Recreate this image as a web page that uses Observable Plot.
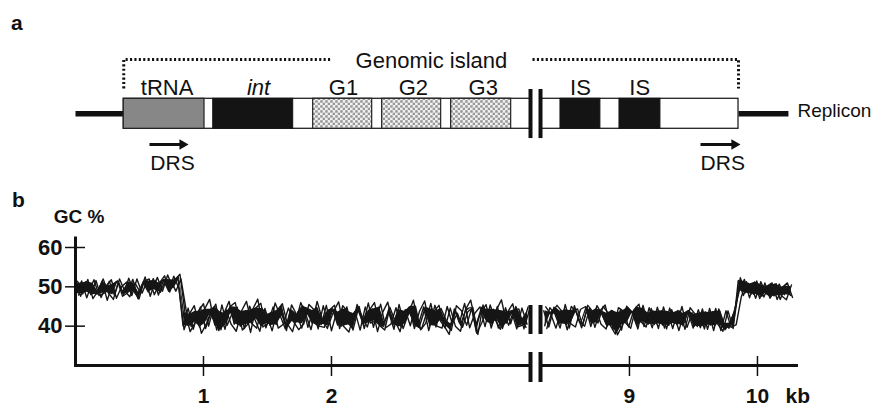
<!DOCTYPE html>
<html><head><meta charset="utf-8">
<script src="https://cdn.jsdelivr.net/npm/d3@7"></script>
<script src="https://cdn.jsdelivr.net/npm/@observablehq/plot@0.6"></script>
<style>
body{margin:0;background:#fff;}
#wrap{position:relative;width:877px;height:408px;overflow:hidden;font-family:'Liberation Sans',Arial,sans-serif;color:#111;}
.panel{position:absolute;left:0;}
.lab{position:absolute;font-weight:bold;font-size:21px;line-height:1;}
</style></head><body>
<div id="wrap">
<div class="panel" id="pa" style="top:0"></div>
<div class="panel" id="pb" style="top:185px"></div>
<div class="lab" style="left:11px;top:12px">a</div>
<div class="lab" style="left:12px;top:189px">b</div>
</div>
<script>
// ---------- Panel a: gene map (positions in kb) ----------
const repliconFlanks = [[0, 0.377], [9.852, 10.242]];
const islandStart = 0.377, islandEnd = 9.852;
const geneNames  = ["tRNA", "int", "G1", "G2", "G3", "IS", "IS"];
const geneKinds  = ["tRNA", "int", "gene", "gene", "gene", "IS", "IS"];
const geneStart  = [0.377, 1.076, 1.857, 2.396, 2.935, 8.461, 8.922];
const geneEnd    = [1.008, 1.701, 2.318, 2.857, 3.404, 8.773, 9.242];
const geneLabelAt = [0.716, 1.43, 2.094, 2.64, 3.186, 8.617, 9.08];
const drsStart = [0.578, 9.555];
const drsTip   = [0.883, 9.867];
const drsLabelAt = [0.758, 9.729];
const islandLabel = "Genomic island";
const islandLabelAt = 2.781;
const repliconLabel = "Replicon";

// ---------- Panel b: GC % in sliding windows ----------
const windowStep = 0.04;     // kb between windows
const traceOffset = 0.008;   // kb shift of window start between overlaid runs
const leftStart = 0;         // kb
const rightStart = 8.33;     // kb
const gcLeftHigh = [
 [50.9,47.6,51.3,48.0,51.6,47.3,50.2,51.8,47.1,50.0,51.2,47.8,52.0,48.4,51.5,49.3,52.4,48.9,53.0,49.8,52.5],
 [48.3,51.5,47.2,50.9,48.1,51.4,46.6,50.6,51.5,47.6,48.5,51.9,47.0,51.1,48.7,52.1,47.9,51.7,48.9,52.7,49.6],
 [51.4,48.2,51.9,47.0,49.0,52.0,48.5,46.8,51.3,48.0,52.2,48.9,46.9,51.4,52.0,48.0,51.0,52.8,48.7,51.8,53.2],
 [47.9,51.0,48.6,51.8,47.8,48.4,51.4,47.9,52.0,49.0,47.5,51.0,48.7,52.5,47.6,51.6,48.6,51.9,51.7,48.9,52.0]
];
const gcLeftLow = [
 [40.1,44.6,39.2,43.8,45.7,40.0,44.9,38.9,43.2,46.3,40.5,44.0,39.4,45.1,41.8,38.7,44.5,40.2,45.9,42.6,
  39.3,44.2,40.9,46.0,42.9,39.1,44.8,40.4,45.3,38.8,43.6,40.0,44.9,39.6,45.5,42.1,39.8,44.4,38.6,43.5,
  46.1,40.3,44.2,39.4,43.0,46.6,40.5,44.9,38.9,43.7,45.3,40.1,37.9,44.4,40.8,45.8,39.6,43.3,44.9,39.9,
  45.4,41.6,39.2,44.7,40.6,45.0,41.9,39.7],
 [39.1,43.0,45.2,39.8,44.3,46.8,40.3,43.6,39.2,45.0,46.0,40.0,43.9,38.4,44.6,45.8,39.6,43.5,40.4,45.1,
  38.9,45.4,42.9,39.5,44.6,40.8,46.3,41.7,39.4,44.4,40.3,45.2,43.7,39.0,44.2,40.5,45.9,39.7,44.8,40.7,
  43.4,39.2,45.5,40.6,44.9,39.4,43.8,46.4,40.2,45.3,41.5,39.6,44.6,40.0,38.7,44.3,46.6,40.4,43.5,45.5,
  39.5,44.1,46.7,40.8,43.6,39.3,44.6,40.5],
 [43.4,38.6,41.0,44.9,39.4,43.1,45.6,39.1,44.2,40.5,38.7,43.8,46.3,40.7,39.5,44.5,42.9,38.8,44.0,45.7,
  40.5,38.6,43.6,45.1,39.7,44.0,39.3,45.2,40.1,43.7,46.2,39.9,38.5,43.2,45.0,39.4,44.1,46.0,40.2,39.0,
  44.8,41.3,38.6,44.2,40.1,45.1,39.1,40.7,45.8,39.8,44.5,41.5,38.9,45.2,43.9,40.2,44.6,38.2,41.0,44.3,
  40.4,45.0,39.4,43.6,45.7,39.8,40.3,44.9],
 [44.2,39.9,43.7,38.2,40.7,44.3,39.0,45.4,40.2,43.2,44.8,39.0,40.4,44.2,46.9,39.8,40.7,44.9,39.5,40.5,
  44.6,41.1,39.1,40.6,45.5,44.2,40.0,39.7,44.1,45.3,39.4,44.4,40.3,43.7,39.0,44.9,40.8,41.3,45.6,39.6,
  40.5,44.7,39.8,43.8,45.2,40.1,39.3,43.4,44.4,40.0,39.5,45.0,40.6,43.3,39.7,43.6,44.8,37.9,45.4,41.1,
  44.3,39.5,43.9,40.2,44.0,44.4,39.3,43.9]
];
const gcRightLow = [
 [43.9,39.8,44.8,40.6,44.2,39.5,45.2,41.0,40.0,44.6,39.7,43.9,45.4,40.2,38.0,44.3,40.8,39.5,44.8,41.1,
  39.8,44.5,40.6,43.9,39.3,44.2,40.4,45.0,39.7,43.4,39.9,44.4,39.2,43.7,40.5,38.7,43.9,39.4],
 [40.1,44.7,43.1,39.5,45.5,40.7,39.8,44.3,45.0,39.9,44.4,40.5,39.3,44.0,43.4,39.0,45.1,43.6,40.1,44.5,
  43.3,39.6,44.8,40.3,43.7,39.4,44.0,40.1,43.6,39.5,44.2,40.0,43.5,38.9,44.4,40.7,39.5,43.7],
 [44.9,43.0,39.5,44.0,40.4,45.0,43.5,39.6,43.9,40.7,45.2,43.0,40.0,43.9,37.8,40.3,44.7,43.4,39.3,45.3,
  40.5,43.8,39.4,44.9,40.2,43.4,38.9,43.2,44.0,40.0,43.3,39.3,44.5,40.1,43.8,39.1,40.8,44.3],
 [39.4,43.5,45.3,43.7,39.1,43.9,44.4,40.2,45.3,43.7,40.8,45.0,43.3,39.3,44.7,43.8,39.8,44.1,45.6,39.9,
  44.7,40.4,43.8,39.5,44.6,40.7,43.9,39.2,44.7,43.0,39.6,43.6,40.3,44.5,38.9,43.9,39.7,40.4]
];
const gcRightHigh = [
 [51.6,47.8,50.9,48.1,50.6,47.4,50.4,47.7,50.7,48.0,50.0],
 [49.0,51.9,47.2,51.2,47.0,51.0,47.1,50.7,46.8,50.2,47.8],
 [52.3,48.5,50.7,47.1,51.3,48.3,47.5,50.8,47.8,46.7,50.5],
 [47.5,51.3,48.2,51.5,47.6,50.1,51.0,46.8,49.9,51.0,47.3]
];
const yTicks = [40, 50, 60];
const xTicks = [1, 2, 9, 10];
const xTickLabels = ["1", "2", "9", "10"];
const xUnit = "kb";
const yTitle = "GC %";

// ---------- shared broken x scale ----------
const breakL = 3.555, breakR = 8.305;
const xScale = {type: "linear", domain: [0, breakL, breakR, 10.305], range: [75, 530, 540, 796], axis: null};
const font = "'Liberation Sans', Arial, sans-serif";

// ---------- Panel a ----------
const genes = geneNames.map((name, i) => ({name, kind: geneKinds[i], start: geneStart[i], end: geneEnd[i], at: geneLabelAt[i]}));
const drs = drsStart.map((s, i) => ({s, tip: drsTip[i], head: drsTip[i] - 0.047, at: drsLabelAt[i]}));
const islandParts = [[islandStart, breakL], [breakR, islandEnd]];
const byKind = k => genes.filter(g => g.kind === k);
const dotted = {stroke: "#111", strokeWidth: 3, strokeDasharray: "2.1,2.3", strokeLinecap: "butt", strokeLinejoin: "miter"};

const pa = Plot.plot({
  width: 877, height: 185, margin: 0,
  style: {fontFamily: font, background: "transparent", color: "#111"},
  x: xScale,
  y: {domain: [-1, 1], range: [128.3, 98.3], axis: null},
  marks: [
    Plot.link(repliconFlanks, {x1: d => d[0], x2: d => d[1], y1: 0, y2: 0, stroke: "#111", strokeWidth: 5.5}),
    Plot.rect(islandParts, {x1: d => d[0], x2: d => d[1], y1: -1, y2: 1, fill: "white", stroke: "#222", strokeWidth: 1.3}),
    Plot.rect(byKind("tRNA"), {x1: "start", x2: "end", y1: -1, y2: 1, fill: "#878787", stroke: "#222", strokeWidth: 1.2}),
    Plot.rect(byKind("int"), {x1: "start", x2: "end", y1: -1, y2: 1, fill: "#141414", stroke: "#141414", strokeWidth: 1}),
    Plot.rect(byKind("gene"), {x1: "start", x2: "end", y1: -1, y2: 1, fill: "url(#stipple)", stroke: "#222", strokeWidth: 1.2}),
    Plot.rect(byKind("IS"), {x1: "start", x2: "end", y1: -1, y2: 1, fill: "#141414", stroke: "#141414", strokeWidth: 1}),
    Plot.ruleX([breakL, breakR], {y1: -1.65, y2: 1.62, stroke: "#111", strokeWidth: 4}),
    Plot.line([[islandStart, 1.69], [islandStart, 3.62], [1.992, 3.62]], dotted),
    Plot.line([[4.505, 3.62], [islandEnd, 3.62], [islandEnd, 1.69]], dotted),
    Plot.text([islandLabel], {x: islandLabelAt, y: 3.553, fontSize: 22, fill: "#111"}),
    Plot.text(genes.filter(g => g.kind !== "int"), {x: "at", y: 1.756, text: "name", fontSize: 22, fill: "#111"}),
    Plot.text(byKind("int"), {x: "at", y: 1.756, text: "name", fontSize: 22, fontStyle: "italic", fill: "#111"}),
    Plot.text([repliconLabel], {x: 10.3125, y: 0.18, textAnchor: "start", fontSize: 19, fill: "#111"}),
    Plot.link(drs, {x1: "s", x2: "head", y1: -2.05, y2: -2.05, stroke: "#111", strokeWidth: 3}),
    Plot.dot(drs, {x: "head", y: -2.05, symbol: "triangle", r: 3.9, rotate: 90, fill: "#111", stroke: "none"}),
    Plot.text(drs, {x: "at", y: -3.27, text: () => "DRS", fontSize: 21, fill: "#111"})
  ]
});
const NS = "http://www.w3.org/2000/svg";
const defs = document.createElementNS(NS, "defs");
const pat = document.createElementNS(NS, "pattern");
pat.setAttribute("id", "stipple"); pat.setAttribute("width", "5"); pat.setAttribute("height", "5");
pat.setAttribute("patternUnits", "userSpaceOnUse");
[["0", "0", "5", "5", "#f1f1f1"], ["0.2", "0.2", "2.5", "2.5", "#979797"], ["2.7", "2.7", "2.5", "2.5", "#979797"]].forEach(([x, y, w, h, f]) => {
  const r = document.createElementNS(NS, "rect");
  r.setAttribute("x", x); r.setAttribute("y", y); r.setAttribute("width", w); r.setAttribute("height", h); r.setAttribute("fill", f);
  pat.appendChild(r);
});
defs.appendChild(pat);
pa.insertBefore(defs, pa.firstChild);
document.getElementById("pa").appendChild(pa);

// ---------- Panel b ----------
const rows = [];
for (let t = 0; t < 4; t++) {
  gcLeftHigh[t].concat(gcLeftLow[t]).forEach((gc, i) => rows.push({side: "L", key: "L" + t, i, x: leftStart + t * traceOffset + i * windowStep, gc}));
  gcRightLow[t].concat(gcRightHigh[t]).forEach((gc, i) => rows.push({side: "R", key: "R" + t, i, x: rightStart + t * traceOffset + i * windowStep, gc}));
}
// inner band of the overlapping runs (2nd..3rd value at each window)
const env = [];
for (const side of ["L", "R"]) {
  const groups = d3.group(rows.filter(r => r.side === side), r => r.i);
  for (const [i, rs] of groups) {
    const v = rs.map(r => r.gc).sort(d3.ascending);
    env.push({side, x: d3.mean(rs, r => r.x), lo: v[1], hi: v[2]});
  }
}
const axisSegs = [[0, breakL], [breakR, 10.305]];

const pb = Plot.plot({
  width: 877, height: 223, margin: 0,
  style: {fontFamily: font, background: "transparent", color: "#111"},
  x: xScale,
  y: {domain: [30, 60], range: [180, 62], axis: null},
  marks: [
    Plot.areaY(env, {x: "x", y1: "lo", y2: "hi", z: "side", fill: "#161616"}),
    Plot.line(rows, {x: "x", y: "gc", z: "key", stroke: "#161616", strokeWidth: 1.4}),
    Plot.ruleX([breakL, breakR], {y1: 37.88, y2: 45.25, stroke: "#111", strokeWidth: 4}),
    Plot.link(axisSegs, {x1: d => d[0], x2: d => d[1], y1: 30, y2: 30, stroke: "#111", strokeWidth: 3, strokeLinecap: "square"}),
    Plot.ruleX([0], {y1: 30, y2: 62.29, stroke: "#111", strokeWidth: 3, strokeLinecap: "square"}),
    Plot.ruleY(yTicks, {x1: -0.078, x2: 0.078, stroke: "#111", strokeWidth: 1.5}),
    Plot.text(yTicks, {x: -0.102, y: d => d, text: d => String(d), textAnchor: "end", fontSize: 22, fontWeight: "bold", fill: "#111"}),
    Plot.ruleX(xTicks, {y1: 27.2, y2: 32.29, stroke: "#111", strokeWidth: 1.5}),
    Plot.ruleX([breakL, breakR], {y1: 25.68, y2: 33.3, stroke: "#111", strokeWidth: 4}),
    Plot.text(xTicks, {x: d => d, y: 22.3, text: (d, i) => xTickLabels[i], fontSize: 21, fontWeight: "bold", fill: "#111"}),
    Plot.text([xUnit], {x: 10.219, y: 22.3, textAnchor: "start", fontSize: 21, fontWeight: "bold", fill: "#111"}),
    Plot.text([yTitle], {x: -0.1695, y: 67.9, textAnchor: "start", fontSize: 19, fontWeight: "bold", fill: "#111"})
  ]
});
document.getElementById("pb").appendChild(pb);
</script>
</body></html>
